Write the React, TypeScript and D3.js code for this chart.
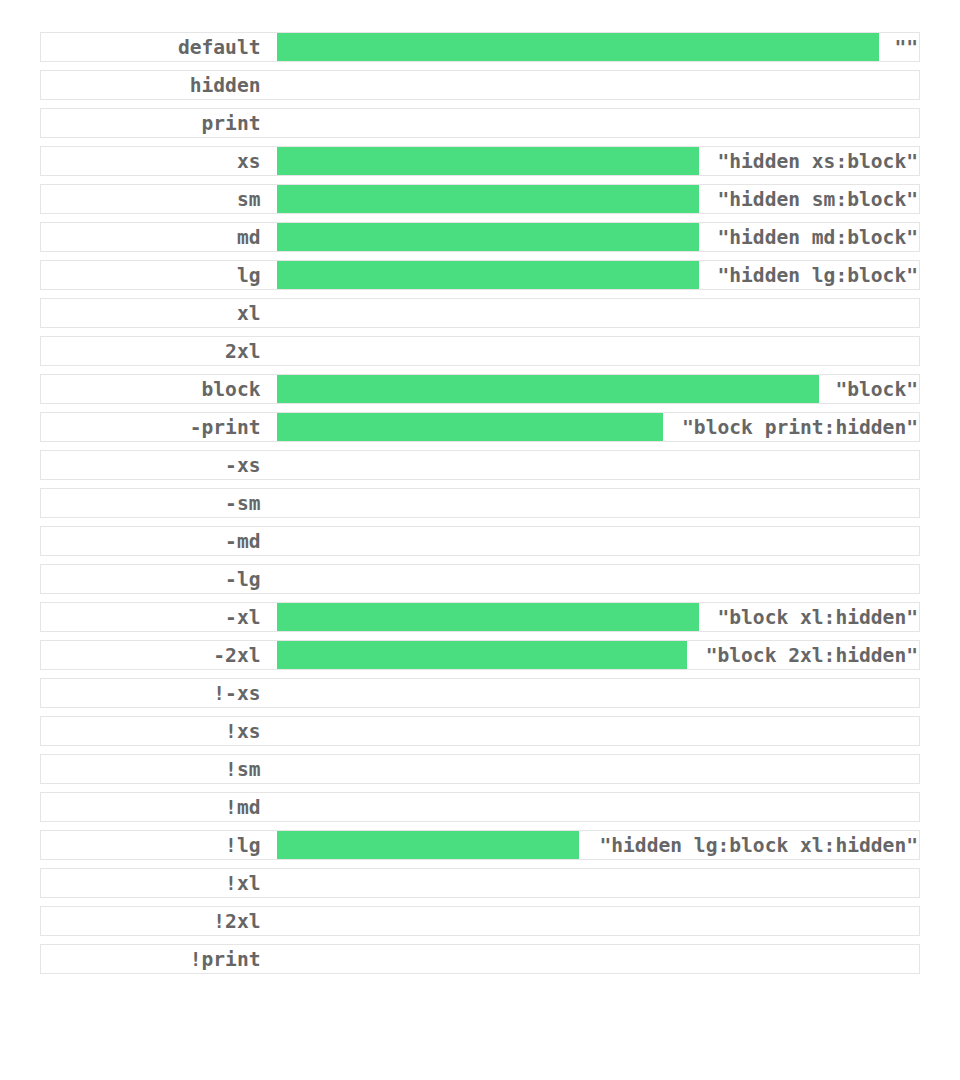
import React from "react";
import * as d3 from "d3";

const categories = ["default","hidden","print","xs","sm","md","lg","xl","2xl","block","-print","-xs","-sm","-md","-lg","-xl","-2xl","!-xs","!xs","!sm","!md","!lg","!xl","!2xl","!print"];
const valueLabels = ['""',null,null,'"hidden xs:block"','"hidden sm:block"','"hidden md:block"','"hidden lg:block"',null,null,'"block"','"block print:hidden"',null,null,null,null,'"block xl:hidden"','"block 2xl:hidden"',null,null,null,null,'"hidden lg:block xl:hidden"',null,null,null];
const values = [602,0,0,422,422,422,422,0,0,542,386,0,0,0,0,422,410,0,0,0,0,302,0,0,0];

export default function App() {
  const W = 960, H = 1080;
  const boxX = 40, boxW = 879, top = 32, pitch = 38, rowH = 29;
  const barX0 = 277;
  const x = d3.scaleLinear().domain([0, 642]).range([barX0, 919]);
  const y = d3.scaleBand().domain(categories).range([top, top + pitch * categories.length]).paddingInner(0).paddingOuter(0);
  const font = "'DejaVu Sans Mono', monospace";
  return (
    <svg width={W} height={H} style={{ position: "absolute", left: 0, top: 0 }}>
      {categories.map((c, i) => {
        const y0 = y(c)!;
        const v = values[i];
        const lab = valueLabels[i];
        return (
          <g key={c}>
            <rect x={boxX + 0.5} y={y0 + 0.5} width={boxW} height={rowH} fill="#fff" stroke="#e5e5e5" strokeWidth={1} />
            {v > 0 && <rect x={x(0)} y={y0 + 1} width={x(v) - x(0)} height={rowH - 1} fill="#4ade80" />}
            <text x={260.5} y={y0 + 15} textAnchor="end" dominantBaseline="central" fontFamily={font} fontWeight="bold" fontSize={19.6} fill="#666">{c}</text>
            {lab && <text x={918} y={y0 + 15} textAnchor="end" dominantBaseline="central" fontFamily={font} fontWeight="bold" fontSize={19.6} fill="#666">{lab}</text>}
          </g>
        );
      })}
    </svg>
  );
}
